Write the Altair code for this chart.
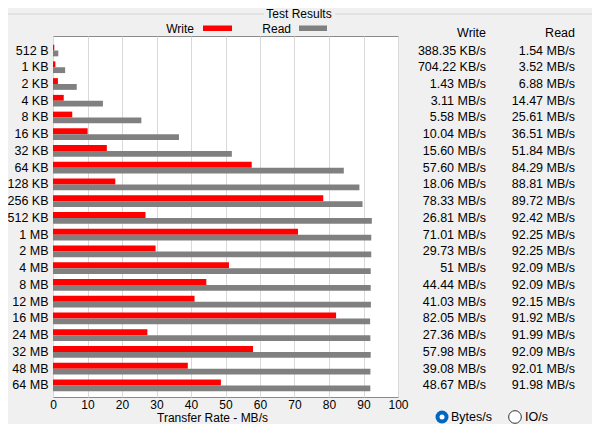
import altair as alt
import pandas as pd

sizes = ["512 B", "1 KB", "2 KB", "4 KB", "8 KB", "16 KB", "32 KB", "64 KB",
         "128 KB", "256 KB", "512 KB", "1 MB", "2 MB", "4 MB", "8 MB", "12 MB",
         "16 MB", "24 MB", "32 MB", "48 MB", "64 MB"]
write_mbs = [0.38, 0.69, 1.43, 3.11, 5.58, 10.04, 15.60, 57.60, 18.06, 78.33,
             26.81, 71.01, 29.73, 51.0, 44.44, 41.03, 82.05, 27.36, 57.98,
             39.08, 48.67]
read_mbs = [1.54, 3.52, 6.88, 14.47, 25.61, 36.51, 51.84, 84.29, 88.81, 89.72,
            92.42, 92.25, 92.25, 92.09, 92.09, 92.15, 91.92, 91.99, 92.09,
            92.01, 91.98]
write_labels = ["388.35 KB/s", "704.22 KB/s", "1.43 MB/s", "3.11 MB/s",
                "5.58 MB/s", "10.04 MB/s", "15.60 MB/s", "57.60 MB/s",
                "18.06 MB/s", "78.33 MB/s", "26.81 MB/s", "71.01 MB/s",
                "29.73 MB/s", "51 MB/s", "44.44 MB/s", "41.03 MB/s",
                "82.05 MB/s", "27.36 MB/s", "57.98 MB/s", "39.08 MB/s",
                "48.67 MB/s"]
read_labels = ["1.54 MB/s", "3.52 MB/s", "6.88 MB/s", "14.47 MB/s",
               "25.61 MB/s", "36.51 MB/s", "51.84 MB/s", "84.29 MB/s",
               "88.81 MB/s", "89.72 MB/s", "92.42 MB/s", "92.25 MB/s",
               "92.25 MB/s", "92.09 MB/s", "92.09 MB/s", "92.15 MB/s",
               "91.92 MB/s", "91.99 MB/s", "92.09 MB/s", "92.01 MB/s",
               "91.98 MB/s"]
x_ticks = [0, 10, 20, 30, 40, 50, 60, 70, 80, 90, 100]
series = ["Write", "Read"]
series_colors = ["#ff0000", "#808080"]

FONT = "Liberation Sans"

bars_df = pd.DataFrame({
    "size": sizes * 2,
    "series": ["Write"] * len(sizes) + ["Read"] * len(sizes),
    "rate": write_mbs + read_mbs,
})
table_df = pd.DataFrame({"size": sizes, "w": write_labels, "r": read_labels})
one = pd.DataFrame({"a": [0]})

yscale = alt.Scale(domain=sizes, paddingInner=0.30, paddingOuter=0.43, align=0.6)

bars = alt.Chart(bars_df).mark_bar().encode(
    x=alt.X("rate:Q", scale=alt.Scale(domain=[0, 100], nice=False),
            axis=alt.Axis(values=x_ticks, title="Transfer Rate - MB/s",
                          grid=True, gridColor="#d9d9d9", domain=False,
                          ticks=False, labelPadding=2, labelFlush=False,
                          labelFontSize=12,
                          titleX=159, titleY=15.5, titleBaseline="top",
                          titleFontSize=12, titleAnchor="middle")),
    y=alt.Y("size:N", sort=sizes, scale=yscale,
            axis=alt.Axis(title=None, ticks=False, domain=False,
                          labelPadding=5, grid=False)),
    yOffset=alt.YOffset("series:N", sort=series,
                        scale=alt.Scale(domain=series, paddingInner=0, paddingOuter=0)),
    color=alt.Color("series:N", scale=alt.Scale(domain=series, range=series_colors),
                    legend=None),
)

col_w = alt.Chart(table_df).mark_text(align="right", baseline="middle", font=FONT,
                                      fontSize=12.5, color="#000").encode(
    y=alt.Y("size:N", sort=sizes, scale=yscale), x=alt.value(433), text="w:N")
col_r = alt.Chart(table_df).mark_text(align="right", baseline="middle", font=FONT,
                                      fontSize=12.5, color="#000").encode(
    y=alt.Y("size:N", sort=sizes, scale=yscale), x=alt.value(522), text="r:N")


def label(txt, x, y, align="left", size=12.5):
    return alt.Chart(one).mark_text(text=txt, align=align, baseline="middle",
                                    font=FONT, fontSize=size, color="#000").encode(
        x=alt.value(x), y=alt.value(y))


def box(x1, x2, y1, y2, color):
    return alt.Chart(one).mark_rect(color=color).encode(
        x=alt.value(x1), x2=alt.value(x2), y=alt.value(y1), y2=alt.value(y2))


def rule(x1, x2, y1, y2, color, w=1):
    return alt.Chart(one).mark_rule(color=color, strokeWidth=w).encode(
        x=alt.value(x1), x2=alt.value(x2), y=alt.value(y1), y2=alt.value(y2))


frame = [
    rule(-46, 211, -22, -22, "#d5d5d5"),
    rule(282, 540, -22, -22, "#d5d5d5"),
]

texts = [
    label("Test Results", 246, -22, "center", 12),
    label("Write", 141, -7.5, "right", 12),
    box(150, 179, -10.5, -5, series_colors[0]),
    label("Read", 238, -7.5, "right", 12),
    box(246, 274, -10.5, -5, series_colors[1]),
    label("Write", 433, -3.5, "right"),
    label("Read", 522, -3.5, "right"),
    label("Bytes/s", 398, 381),
    label("IO/s", 472, 381),
]

radio_on = alt.Chart(one).mark_point(shape="circle", filled=True, size=169,
                                     color="#0067c0", opacity=1).encode(
    x=alt.value(389), y=alt.value(381))
radio_dot = alt.Chart(one).mark_point(shape="circle", filled=True, size=25,
                                      color="#ffffff", opacity=1).encode(
    x=alt.value(389), y=alt.value(381))
radio_off = alt.Chart(one).mark_point(shape="circle", filled=True, size=160,
                                      fill="#ffffff", stroke="#333333",
                                      strokeWidth=1, opacity=1).encode(
    x=alt.value(462), y=alt.value(381))

chart = alt.layer(bars, col_w, col_r, *frame, *texts, radio_on, radio_dot, radio_off).properties(
    width=345, height=361,
    padding={"left": 45, "top": 28, "right": 194, "bottom": 27},
    autosize=alt.AutoSizeParams(type="none"),
    background="#f0f0f0",
).configure_view(
    fill="#ffffff", stroke="#8a8a8a", strokeWidth=1,
).configure_axis(
    labelFont=FONT, labelFontSize=12.5, labelColor="#000",
    titleFont=FONT, titleFontSize=12.5, titleColor="#000", titleFontWeight="normal",
)

chart.save("out.html", embed_options={"renderer": "svg", "actions": False})
